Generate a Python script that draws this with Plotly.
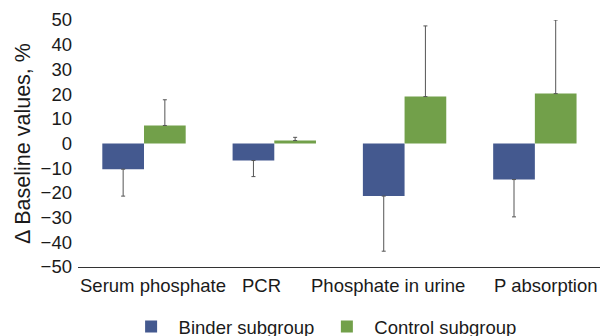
import plotly.graph_objects as go

categories = ["Serum phosphate", "PCR", "Phosphate in urine", "P absorption"]
binder_values = [-10.4, -6.9, -21.3, -14.6]
binder_err = [10.9, 6.5, 22.3, 15.1]
control_values = [7.3, 1.2, 19.0, 20.2]
control_err = [10.4, 1.3, 28.6, 29.8]
y_ticks = [-50, -40, -30, -20, -10, 0, 10, 20, 30, 40, 50]

FONT = "Liberation Sans, Arial, sans-serif"
label_shift = [9, -13, -17, 11]  # horizontal offsets of category labels (px)

fig = go.Figure()
fig.add_trace(go.Bar(
    name="Binder subgroup", x=categories, y=binder_values,
    marker=dict(color="#44598f", line=dict(width=0)),
    error_y=dict(type="data", symmetric=False, array=[0]*4, arrayminus=binder_err,
                 color="#555555", thickness=1, width=2),
))
fig.add_trace(go.Bar(
    name="Control subgroup", x=categories, y=control_values,
    marker=dict(color="#72a04a", line=dict(width=0)),
    error_y=dict(type="data", symmetric=False, array=control_err, arrayminus=[0]*4,
                 color="#555555", thickness=1, width=2),
))

for cat, dx in zip(categories, label_shift):
    fig.add_annotation(x=cat, xref="x", y=0, yref="paper", yanchor="top",
                       text=cat, showarrow=False, xshift=dx, yshift=-6,
                       font=dict(family=FONT, size=18.5, color="#1a1a1a"))

fig.update_layout(
    width=611, height=336,
    margin=dict(l=78, r=11, t=20, b=69, autoexpand=False),
    paper_bgcolor="white", plot_bgcolor="white",
    barmode="group", bargap=0.36, bargroupgap=0,
    font=dict(family=FONT, size=18.5, color="#1a1a1a"),
    showlegend=True,
    legend=dict(orientation="h", x=0.528, xanchor="center", xref="container",
                y=-0.166, yanchor="top", yref="paper",
                font=dict(size=18.5), traceorder="normal", itemwidth=45),
    xaxis=dict(showline=True, linecolor="#333333", linewidth=1, ticks="",
               tickangle=0, automargin=False, showticklabels=False,
               showgrid=False, zeroline=False),
    yaxis=dict(range=[-50, 50], tickvals=y_ticks, showgrid=False, zeroline=False,
               showline=False, ticks="", ticklabelstandoff=5, automargin=False,
               title=dict(text="Δ Baseline values, %", font=dict(size=21.5), standoff=4),
               tickfont=dict(size=18.5)),
)

fig.write_html("out.html")
